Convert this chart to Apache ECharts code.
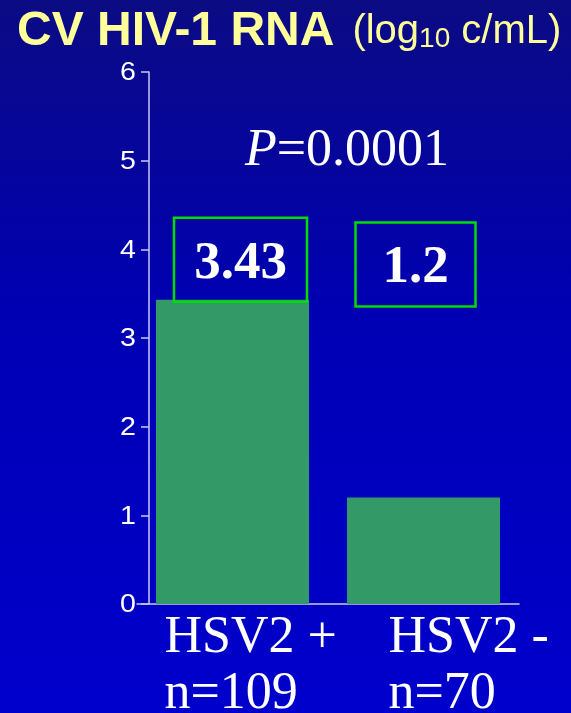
<!DOCTYPE html>
<html>
<head>
<meta charset="utf-8">
<script src="https://cdn.jsdelivr.net/npm/echarts@6/dist/echarts.min.js"></script>
<style>
  html, body { margin: 0; padding: 0; }
  #chart { width: 571px; height: 713px; }
</style>
</head>
<body>
<div id="chart"></div>
<script>
// Cervicovaginal HIV-1 RNA by HSV-2 status
const categories = ['HSV2 +', 'HSV2 -'];
const groupSizes = ['n=109', 'n=70'];
const meanLogRNA = [3.43, 1.2];
const yTicks = [0, 1, 2, 3, 4, 5, 6];
const pValue = '0.0001';

const serif = '"Liberation Serif", "Times New Roman", serif';
const sans = '"Liberation Sans", Arial, Helvetica, sans-serif';

const chart = echarts.init(document.getElementById('chart'));

// the value axis sits a little inside the plotting area's left edge
const yAxisShift = 12;

// value boxes above the bars
const boxLayouts = [
  { width: 133, height: 84, offset: [8, 2] },
  { width: 120, height: 84, offset: [-8, -191] }
];

const barData = meanLogRNA.map((v, i) => ({
  value: v,
  label: {
    width: boxLayouts[i].width,
    height: boxLayouts[i].height,
    lineHeight: boxLayouts[i].height - 8,
    offset: boxLayouts[i].offset
  }
}));

const yellow = '#ffff99';
const axisColor = '#c8c8f0';

chart.setOption({
  animation: false,
  textStyle: { fontFamily: sans },
  backgroundColor: {
    type: 'linear', x: 0, y: 0, x2: 0, y2: 1,
    colorStops: [
      { offset: 0, color: '#0b0b84' },
      { offset: 0.45, color: '#0000b4' },
      { offset: 1, color: '#0000cc' }
    ]
  },
  title: {
    left: 12,
    top: 2,
    text: '{b|CV HIV-1 RNA}{p|(log}{s|10}{r| c/mL)}',
    textStyle: {
      rich: {
        b: { fontFamily: sans, fontWeight: 'bold', fontSize: 48, color: yellow, lineHeight: 50 },
        p: { fontFamily: sans, fontWeight: 'normal', fontSize: 40, color: yellow, lineHeight: 50, padding: [0, 0, 0, 18] },
        r: { fontFamily: sans, fontWeight: 'normal', fontSize: 40, color: yellow, lineHeight: 50 },
        s: { fontFamily: sans, fontWeight: 'normal', fontSize: 28, color: yellow, lineHeight: 50, padding: [15, 0, 0, 0] }
      }
    }
  },
  grid: { left: 137, right: 52, top: 72, bottom: 109, containLabel: false },
  xAxis: {
    type: 'category',
    data: categories,
    axisLine: { lineStyle: { color: axisColor, width: 1.5 } },
    axisTick: { show: false },
    axisLabel: { show: false }
  },
  yAxis: {
    type: 'value',
    offset: -yAxisShift,
    min: yTicks[0],
    max: yTicks[yTicks.length - 1],
    interval: 1,
    splitLine: { show: false },
    axisLine: { show: true, lineStyle: { color: axisColor, width: 1.5 } },
    axisTick: { show: true, length: 8, lineStyle: { color: axisColor, width: 1.5 } },
    axisLabel: { show: false }
  },
  series: [{
    type: 'bar',
    data: barData,
    barWidth: 153,
    itemStyle: { color: '#339966' },
    label: {
      show: true,
      position: 'top',
      distance: 0,
      formatter: p => String(p.value),
      color: '#ffffff',
      fontFamily: serif,
      fontWeight: 'bold',
      fontSize: 53,
      align: 'center',
      borderColor: '#00dd00',
      borderWidth: 2.5
    }
  }]
});

// tick labels, P-value text and two-line group labels placed through the axis scales
const grid = chart.getModel().getComponent('grid').coordinateSystem.getRect();
const axisX = grid.x + yAxisShift;
const graphics = [];
yTicks.forEach(t => {
  graphics.push({
    type: 'text',
    x: axisX - 13,
    y: chart.convertToPixel({ yAxisIndex: 0 }, t) + 1,
    scaleX: 1.1,
    style: {
      text: String(t),
      fontFamily: sans,
      fontSize: 26,
      fill: '#ffffff',
      align: 'right',
      verticalAlign: 'middle'
    }
  });
});
graphics.push({
  type: 'text',
  x: axisX + 198,
  y: chart.convertToPixel({ yAxisIndex: 0 }, 5) + 17,
  style: {
    text: '{i|P}{n|=' + pValue + '}',
    align: 'center',
    verticalAlign: 'bottom',
    rich: {
      i: { fontFamily: serif, fontStyle: 'italic', fontSize: 52, fill: '#ffffff' },
      n: { fontFamily: serif, fontSize: 52, fill: '#ffffff' }
    }
  }
});
const labelShift = [-68, -35];
categories.forEach((c, i) => {
  const cx = chart.convertToPixel({ xAxisIndex: 0 }, c);
  const y0 = chart.convertToPixel({ yAxisIndex: 0 }, 0);
  graphics.push({
    type: 'text',
    x: cx + labelShift[i],
    y: y0 + 6,
    style: {
      text: c + '\n' + groupSizes[i],
      fontFamily: serif,
      fontSize: 52,
      lineHeight: 56,
      fill: '#ffffff',
      align: 'left',
      verticalAlign: 'top'
    }
  });
});
chart.setOption({ graphic: graphics });
</script>
</body>
</html>
